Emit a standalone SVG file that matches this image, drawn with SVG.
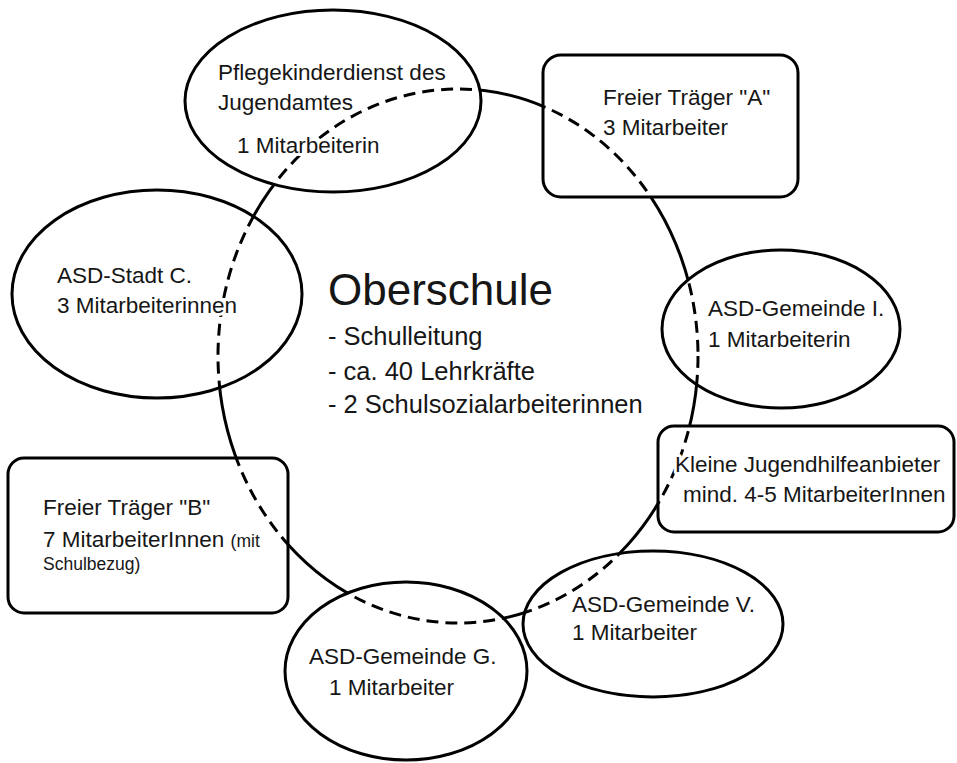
<svg xmlns="http://www.w3.org/2000/svg" width="957" height="763" viewBox="0 0 957 763">
  <style>
    .shape { fill: none; stroke: #000; stroke-width: 3; }
    .ring { fill: none; stroke: #000; stroke-width: 3; }
    .ring-dash { stroke-dasharray: 12 7; }
    text { font-family: "Liberation Sans", Arial, sans-serif; font-size: 22.5px; fill: #161616;
           stroke: #fff; stroke-width: 6; stroke-linejoin: round; paint-order: stroke; }
    .title { font-size: 44px; }
    .list { font-size: 25.5px; }
    .small { font-size: 17.5px; }
  </style>
  <defs>
    <!-- node outlines, used to split the ring into inner (dashed) and outer (solid) parts -->
    <clipPath id="inside-nodes" clipPathUnits="userSpaceOnUse">
      <ellipse cx="333" cy="101" rx="148" ry="91"/>
      <rect x="543" y="55" width="255" height="142" rx="18"/>
      <ellipse cx="157" cy="294" rx="145" ry="104"/>
      <ellipse cx="781" cy="329" rx="119" ry="79"/>
      <rect x="658" y="426" width="296" height="106" rx="16"/>
      <rect x="8" y="458" width="280" height="155" rx="16"/>
      <ellipse cx="653" cy="624" rx="130" ry="73"/>
      <ellipse cx="406" cy="671" rx="121" ry="89"/>
    </clipPath>
    <mask id="outside-nodes" maskUnits="userSpaceOnUse" x="0" y="0" width="957" height="763">
      <rect x="0" y="0" width="957" height="763" fill="#fff"/>
      <g fill="#000">
        <ellipse cx="333" cy="101" rx="148" ry="91"/>
        <rect x="543" y="55" width="255" height="142" rx="18"/>
        <ellipse cx="157" cy="294" rx="145" ry="104"/>
        <ellipse cx="781" cy="329" rx="119" ry="79"/>
        <rect x="658" y="426" width="296" height="106" rx="16"/>
        <rect x="8" y="458" width="280" height="155" rx="16"/>
        <ellipse cx="653" cy="624" rx="130" ry="73"/>
        <ellipse cx="406" cy="671" rx="121" ry="89"/>
      </g>
    </mask>
  </defs>

  <rect x="0" y="0" width="957" height="763" fill="#fff"/>

  <!-- ring linking all partners: solid between nodes, dashed where it crosses a node -->
  <g id="connectors">
    <ellipse class="ring" cx="458" cy="356" rx="240" ry="267" mask="url(#outside-nodes)"/>
    <ellipse class="ring ring-dash" cx="458" cy="356" rx="240" ry="267" clip-path="url(#inside-nodes)"/>
  </g>

  <g id="oberschule">
    <text class="title" x="328" y="305">Oberschule</text>
    <text class="list" x="328" y="345">- Schulleitung</text>
    <text class="list" x="328" y="380">- ca. 40 Lehrkräfte</text>
    <text class="list" x="328" y="413">- 2 Schulsozialarbeiterinnen</text>
  </g>

  <g id="pflegekinderdienst">
    <ellipse class="shape" cx="333" cy="101" rx="148" ry="91"/>
    <text x="218" y="80">Pflegekinderdienst des</text>
    <text x="218" y="110">Jugendamtes</text>
    <text x="237" y="153">1 Mitarbeiterin</text>
  </g>

  <g id="freier-traeger-a">
    <rect class="shape" x="543" y="55" width="255" height="142" rx="18"/>
    <text x="603" y="105">Freier Träger "A"</text>
    <text x="603" y="135">3 Mitarbeiter</text>
  </g>

  <g id="asd-stadt-c">
    <ellipse class="shape" cx="157" cy="294" rx="145" ry="104"/>
    <text x="57" y="283">ASD-Stadt C.</text>
    <text x="57" y="313">3 Mitarbeiterinnen</text>
  </g>

  <g id="asd-gemeinde-i">
    <ellipse class="shape" cx="781" cy="329" rx="119" ry="79"/>
    <text x="708" y="316">ASD-Gemeinde I.</text>
    <text x="708" y="347">1 Mitarbeiterin</text>
  </g>

  <g id="kleine-jugendhilfeanbieter">
    <rect class="shape" x="658" y="426" width="296" height="106" rx="16"/>
    <text x="675" y="472">Kleine Jugendhilfeanbieter</text>
    <text x="683" y="502">mind. 4-5 MitarbeiterInnen</text>
  </g>

  <g id="freier-traeger-b">
    <rect class="shape" x="8" y="458" width="280" height="155" rx="16"/>
    <text x="43" y="515">Freier Träger "B"</text>
    <text x="43" y="547">7 MitarbeiterInnen <tspan class="small">(mit</tspan></text>
    <text class="small" x="43" y="570">Schulbezug)</text>
  </g>

  <g id="asd-gemeinde-v">
    <ellipse class="shape" cx="653" cy="624" rx="130" ry="73"/>
    <text x="572" y="612">ASD-Gemeinde V.</text>
    <text x="572" y="640">1 Mitarbeiter</text>
  </g>

  <g id="asd-gemeinde-g">
    <ellipse class="shape" cx="406" cy="671" rx="121" ry="89"/>
    <text x="309" y="664">ASD-Gemeinde G.</text>
    <text x="329" y="695">1 Mitarbeiter</text>
  </g>
</svg>
